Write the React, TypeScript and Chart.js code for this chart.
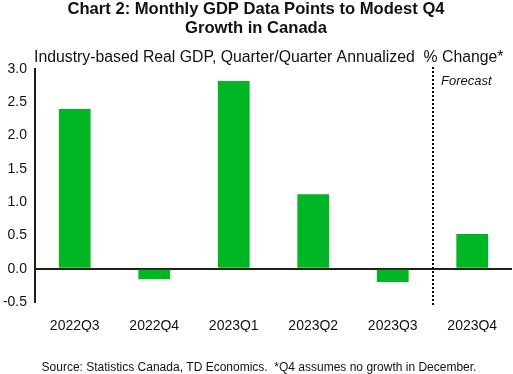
import React, { useEffect, useRef } from "react";
import { Chart, registerables } from "chart.js";

Chart.register(...registerables);

const categories = ["2022Q3", "2022Q4", "2023Q1", "2023Q2", "2023Q3", "2023Q4"];
const gdpGrowth = [2.4, -0.16, 2.82, 1.12, -0.2, 0.52];
const yTicks = [-0.5, 0, 0.5, 1, 1.5, 2, 2.5, 3];
const titleLines = ["Chart 2: Monthly GDP Data Points to Modest Q4", "Growth in Canada"];
const subtitleText = "Industry-based Real GDP, Quarter/Quarter Annualized  % Change*";
const sourceText = "Source: Statistics Canada, TD Economics.  *Q4 assumes no growth in December.";
const forecastText = "Forecast";
const forecastStartIndex = 5;

const FONT = "'Liberation Sans', Arial, sans-serif";
const DARK = "#1c2410";
const TEXT = "#111111";
const GREEN = "#00b624";

const textPlugin = {
  id: "textPlugin",
  afterDraw(chart: any) {
    const ctx = chart.ctx;
    const area = chart.chartArea;
    const xs = chart.scales.x;
    ctx.save();
    ctx.fillStyle = TEXT;
    ctx.textAlign = "center";
    ctx.textBaseline = "alphabetic";
    ctx.font = `bold 16.6px ${FONT}`;
    ctx.fillText(titleLines[0], 256, 14);
    ctx.fillText(titleLines[1], 256, 33);
    ctx.textAlign = "left";
    ctx.font = `15.8px ${FONT}`;
    ctx.fillText(subtitleText, 34, 62);
    ctx.textAlign = "center";
    ctx.font = `12px ${FONT}`;
    ctx.fillText(sourceText, 259, 371);

    const bx = Math.round((xs.getPixelForValue(forecastStartIndex - 1) + xs.getPixelForValue(forecastStartIndex)) / 2);
    ctx.strokeStyle = "#000";
    ctx.lineWidth = 2;
    ctx.setLineDash([2, 2]);
    ctx.beginPath();
    ctx.moveTo(bx, area.top - 2);
    ctx.lineTo(bx, area.bottom + 3);
    ctx.stroke();
    ctx.setLineDash([]);

    ctx.textAlign = "left";
    ctx.font = `italic 13px ${FONT}`;
    ctx.fillStyle = TEXT;
    ctx.fillText(forecastText, bx + 8, 85);
    ctx.restore();
  },
};

export default function App() {
  const ref = useRef<HTMLCanvasElement>(null);
  useEffect(() => {
    if (!ref.current) return;
    const chart = new Chart(ref.current, {
      type: "bar",
      data: {
        labels: categories,
        datasets: [
          {
            data: gdpGrowth,
            backgroundColor: GREEN,
            borderWidth: 0,
            categoryPercentage: 1,
            barPercentage: 0.4,
          },
        ],
      },
      options: {
        responsive: false,
        animation: false,
        layout: { padding: { top: 69, left: 0, right: 1, bottom: 42 } },
        plugins: {
          legend: { display: false },
          title: { display: false },
          tooltip: { enabled: false },
        },
        scales: {
          x: {
            grid: { display: false },
            border: { display: false },
            ticks: { font: { family: FONT, size: 14 }, color: TEXT, padding: 8, maxRotation: 0 },
            afterFit: (s: any) => {
              s.height = 30;
            },
          },
          y: {
            min: yTicks[0],
            max: yTicks[yTicks.length - 1],
            afterBuildTicks: (s: any) => {
              s.ticks = yTicks.map((v) => ({ value: v }));
            },
            grid: {
              drawTicks: false,
              color: (c: any) => (c.tick && c.tick.value === 0 ? DARK : "rgba(0,0,0,0)"),
              lineWidth: 2,
            },
            border: { display: true, color: DARK, width: 2 },
            ticks: {
              font: { family: FONT, size: 14 },
              color: TEXT,
              padding: 8,
              callback: (v: any) => Number(v).toFixed(1),
            },
            afterFit: (s: any) => {
              s.width = 35;
            },
          },
        },
      },
      plugins: [textPlugin],
    });
    return () => chart.destroy();
  }, []);
  return (
    <div style={{ position: "fixed", left: 0, top: 0, width: 513, height: 374, background: "#fff" }}>
      <canvas ref={ref} width={513} height={374} />
    </div>
  );
}
